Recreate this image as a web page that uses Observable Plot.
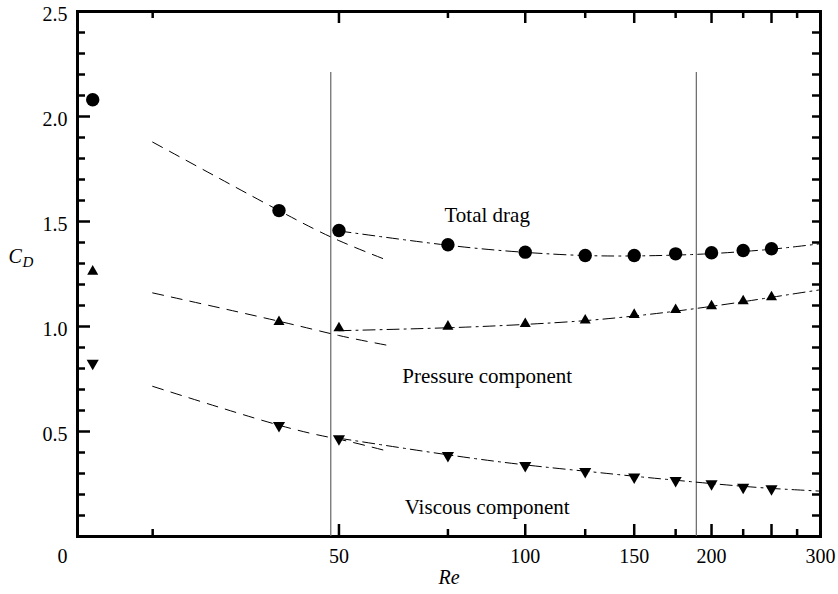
<!DOCTYPE html>
<html>
<head>
<meta charset="utf-8">
<script src="https://cdn.jsdelivr.net/npm/d3@7"></script>
<script src="https://cdn.jsdelivr.net/npm/@observablehq/plot@0.6"></script>
<style>
  html, body { margin: 0; padding: 0; background: #fff; }
  #chart svg { display: block; }
</style>
</head>
<body>
<div id="chart"></div>
<script>
// ---- measured data ----
const reData = [20, 40, 50, 75, 100, 125, 150, 175, 200, 225, 250];
const totalDrag = [2.08, 1.552, 1.457, 1.389, 1.354, 1.338, 1.338, 1.346, 1.351, 1.362, 1.370];
const pressureDrag = [1.262, 1.022, 0.992, 1.0, 1.013, 1.029, 1.056, 1.079, 1.097, 1.121, 1.140];
const viscousDrag = [0.825, 0.529, 0.465, 0.386, 0.338, 0.31, 0.283, 0.267, 0.251, 0.235, 0.227];

// ---- low-Re fits (dashed) ----
const lowRe = [25, 40, 50, 60];
const lowTotal = [1.878, 1.552, 1.409, 1.314];
const lowPressure = [1.16, 1.025, 0.957, 0.91];
const lowViscous = [0.715, 0.53, 0.463, 0.406];

// ---- high-Re fits (dash-dot) ----
const highRe = [50, 75, 100, 125, 150, 175, 200, 225, 250, 275, 300];
const highTotal = [1.455, 1.387, 1.353, 1.338, 1.336, 1.340, 1.347, 1.357, 1.368, 1.381, 1.394];
const highPressure = [0.980, 0.994, 1.010, 1.028, 1.050, 1.073, 1.096, 1.118, 1.139, 1.158, 1.175];
const highViscous = [0.468, 0.389, 0.341, 0.311, 0.287, 0.268, 0.252, 0.239, 0.229, 0.222, 0.216];

// ---- critical Reynolds numbers (vertical lines) ----
const criticalRe = [48.5, 189];
const criticalTop = 2.21;

// ---- annotations ----
const labelNames = ["Total drag", "Pressure component", "Viscous component"];
const labelRe = [86.8, 86.8, 86.8];
const labelCd = [1.529, 0.762, 0.137];

// ---- ticks ----
const xLabelTicks = [50, 100, 150, 200, 300];
const xMajorTicks = [50, 100, 150, 200, 250];
const xMinorTicks = [25, 75, 125, 175, 225, 275];
const yLabelTicks = [0.5, 1.0, 1.5, 2.0, 2.5];
const yMajorTicks = [0.5, 1.0, 1.5, 2.0];
const yMinorTicks = [0.1, 0.2, 0.3, 0.4, 0.6, 0.7, 0.8, 0.9, 1.1, 1.2, 1.3, 1.4,
                     1.6, 1.7, 1.8, 1.9, 2.1, 2.2, 2.3, 2.4];
const yRightTicks = [0.1, 0.2, 0.3, 0.4, 0.5, 0.6, 0.7, 0.8, 0.9, 1.0, 1.1, 1.2, 1.3, 1.4,
                     1.5, 1.6, 1.7, 1.8, 1.9, 2.0, 2.1, 2.2, 2.3, 2.4];

// ---- tables ----
const points = reData.map((re, i) => ({re, total: totalDrag[i], pressure: pressureDrag[i], viscous: viscousDrag[i]}));
const lowRows = lowRe.map((re, i) => ({re, total: lowTotal[i], pressure: lowPressure[i], viscous: lowViscous[i]}));
const highRows = highRe.map((re, i) => ({re, total: highTotal[i], pressure: highPressure[i], viscous: highViscous[i]}));
const labels = labelNames.map((text, i) => ({text, re: labelRe[i], cd: labelCd[i]}));

const serif = "Liberation Serif, Times New Roman, Times, serif";
const fs = 20;
const dashed = "11,8";
const dashDot = "12,5,2,5";

const W = 838, H = 594, ML = 77, MR = 18, MT = 11, MB = 58;
const frameW = W - ML - MR, frameH = H - MT - MB;

const chart = Plot.plot({
  width: W,
  height: H,
  marginLeft: ML,
  marginRight: MR,
  marginTop: MT,
  marginBottom: MB,
  x: {type: "log", domain: [18.9, 300]},
  y: {domain: [0, 2.5]},
  marks: [
    // inward ticks (bottom / top)
    Plot.ruleX(xMajorTicks, {x: d => d, insetTop: frameH - 12, stroke: "black", strokeWidth: 2.5}),
    Plot.ruleX(xMinorTicks, {x: d => d, insetTop: frameH - 7, stroke: "black", strokeWidth: 2.5}),
    Plot.ruleX(xMajorTicks, {x: d => d, insetBottom: frameH - 12, stroke: "black", strokeWidth: 2.5}),
    Plot.ruleX(xMinorTicks, {x: d => d, insetBottom: frameH - 7, stroke: "black", strokeWidth: 2.5}),
    // inward ticks (left / right)
    Plot.ruleY(yMajorTicks, {y: d => d, insetRight: frameW - 13, stroke: "black", strokeWidth: 2.5}),
    Plot.ruleY(yMinorTicks, {y: d => d, insetRight: frameW - 8, stroke: "black", strokeWidth: 2.5}),
    Plot.ruleY(yRightTicks, {y: d => d, insetLeft: frameW - 8, stroke: "black", strokeWidth: 2.5}),
    // frame
    Plot.frame({stroke: "black", strokeWidth: 3}),
    // critical Re lines
    Plot.ruleX(criticalRe, {x: d => d, y1: 0, y2: criticalTop, stroke: "#666666", strokeWidth: 1.2}),
    // low-Re dashed fits
    Plot.line(lowRows, {x: "re", y: "total", stroke: "black", strokeWidth: 1, strokeDasharray: dashed, curve: "natural"}),
    Plot.line(lowRows, {x: "re", y: "pressure", stroke: "black", strokeWidth: 1, strokeDasharray: dashed, curve: "natural"}),
    Plot.line(lowRows, {x: "re", y: "viscous", stroke: "black", strokeWidth: 1, strokeDasharray: dashed, curve: "natural"}),
    // high-Re dash-dot fits
    Plot.line(highRows, {x: "re", y: "total", stroke: "black", strokeWidth: 1, strokeDasharray: dashDot, curve: "natural"}),
    Plot.line(highRows, {x: "re", y: "pressure", stroke: "black", strokeWidth: 1, strokeDasharray: dashDot, curve: "natural"}),
    Plot.line(highRows, {x: "re", y: "viscous", stroke: "black", strokeWidth: 1, strokeDasharray: dashDot, curve: "natural"}),
    // data points
    Plot.dot(points, {x: "re", y: "total", symbol: "circle", r: 6.7, fill: "black"}),
    Plot.dot(points, {x: "re", y: "pressure", symbol: "triangle", r: 4.1, fill: "black"}),
    Plot.dot(points, {x: "re", y: "viscous", symbol: "triangle", rotate: 180, r: 4.5, fill: "black"}),
    // annotations
    Plot.text(labels, {x: "re", y: "cd", text: "text", fontSize: 21, fontFamily: serif, fill: "black"}),
    // tick labels
    Plot.axisX(xLabelTicks, {anchor: "bottom", tickSize: 0, tickPadding: 12, tickFormat: d => String(d), label: null, fontSize: fs, fontFamily: serif}),
    Plot.axisY(yLabelTicks, {anchor: "left", tickSize: 0, tickPadding: 10, tickFormat: d3.format(".1f"), label: null, fontSize: fs, fontFamily: serif, dy: 3}),
    Plot.text(["0"], {frameAnchor: "bottom-left", text: d => d, textAnchor: "end", lineAnchor: "top", dx: -10, dy: 12, fontSize: fs, fontFamily: serif}),
    // axis titles
    Plot.text(["Re"], {frameAnchor: "bottom", text: d => d, lineAnchor: "top", dy: 33, fontSize: fs, fontStyle: "italic", fontFamily: serif}),
    Plot.text(["C"], {frameAnchor: "left", text: d => d, textAnchor: "start", dx: -69, dy: -17, fontSize: fs, fontStyle: "italic", fontFamily: serif}),
    Plot.text(["D"], {frameAnchor: "left", text: d => d, textAnchor: "start", dx: -55, dy: -12, fontSize: 15, fontStyle: "italic", fontFamily: serif})
  ]
});

document.getElementById("chart").appendChild(chart);
</script>
</body>
</html>
